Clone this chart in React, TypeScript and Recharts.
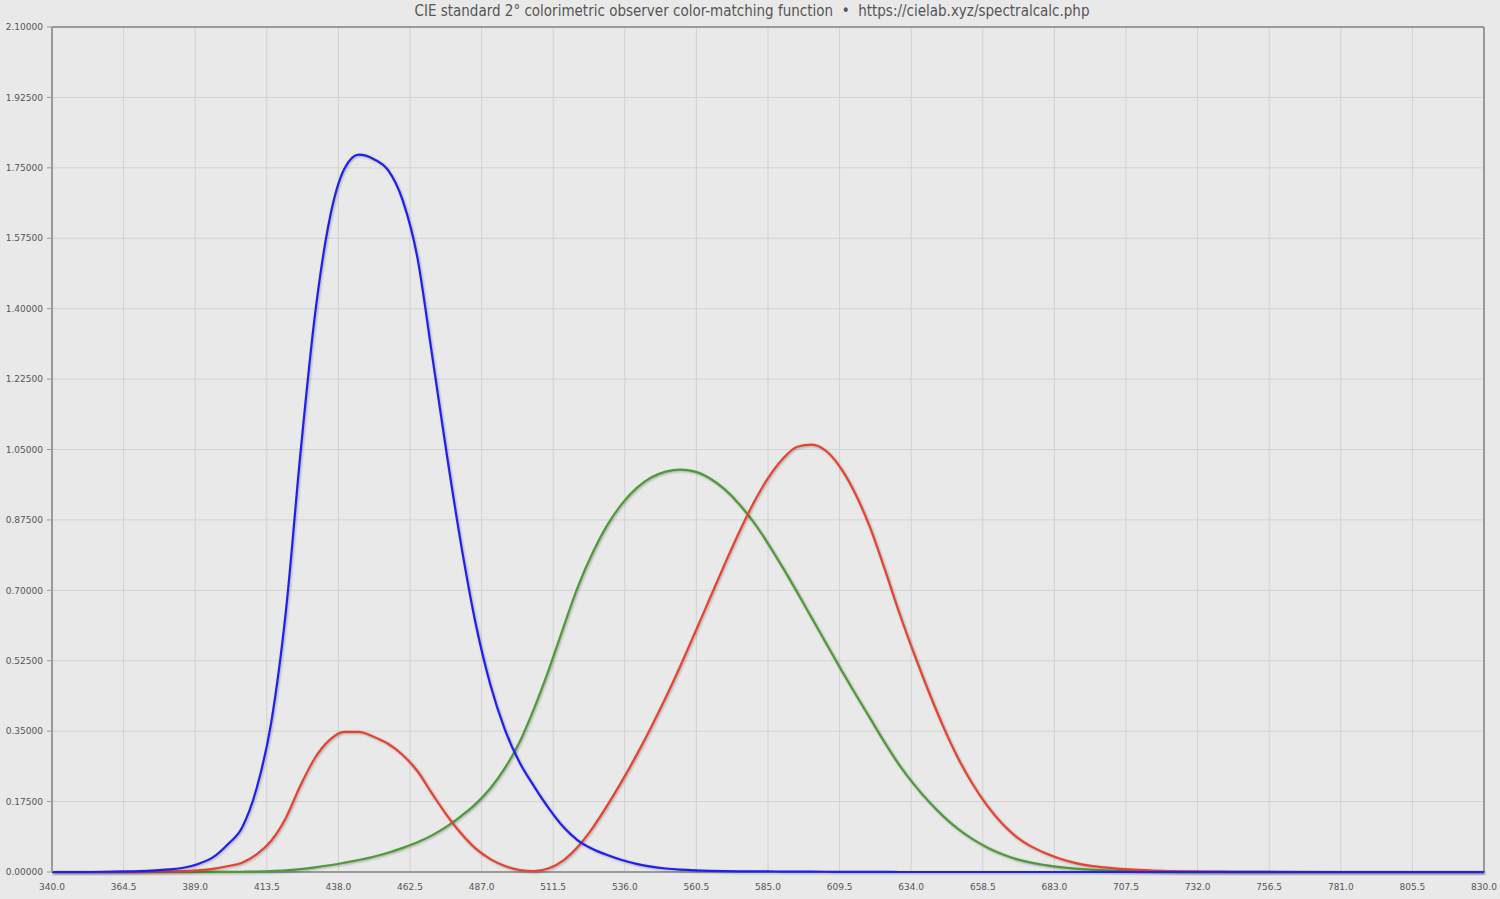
import React from 'react';
import {
  LineChart,
  Line,
  XAxis,
  YAxis,
  CartesianGrid,
  ReferenceLine,
} from 'recharts';

// CIE 1931 2° colour-matching functions (x̄, ȳ, z̄)
const wavelengths = [
  340, 350, 360, 370, 380, 385, 390, 395, 400, 405, 410, 415, 420, 425, 430, 435,
  440, 445, 450, 455, 460, 465, 470, 475, 480, 485, 490, 495, 500, 505, 510, 515,
  520, 525, 530, 535, 540, 545, 550, 555, 560, 565, 570, 575, 580, 585, 590, 595,
  600, 605, 610, 615, 620, 625, 630, 635, 640, 645, 650, 655, 660, 665, 670, 675,
  680, 685, 690, 695, 700, 710, 720, 730, 740, 750, 760, 780, 800, 830,
];

const xBar = [
  0, 0, 0.00013, 0.000415, 0.001368, 0.002236, 0.004243, 0.00765, 0.01431, 0.02319, 0.04351, 0.07763, 0.13438, 0.21477, 0.2839, 0.3285,
  0.34828, 0.34806, 0.3362, 0.3187, 0.2908, 0.2511, 0.19536, 0.1421, 0.09564, 0.05795, 0.03201, 0.0147, 0.0049, 0.0024, 0.0093, 0.0291,
  0.06327, 0.1096, 0.1655, 0.22575, 0.2904, 0.3597, 0.43345, 0.51205, 0.5945, 0.6784, 0.7621, 0.8425, 0.9163, 0.9786, 1.0263, 1.0567,
  1.0622, 1.0456, 1.0026, 0.9384, 0.85445, 0.7514, 0.6424, 0.5419, 0.4479, 0.3608, 0.2835, 0.2187, 0.1649, 0.1212, 0.0874, 0.0636,
  0.04677, 0.0329, 0.0227, 0.01584, 0.011359, 0.00579, 0.002899, 0.00144, 0.00069, 0.000332, 0.000166, 0.000042, 0.00001, 0,
];

const yBar = [
  0, 0, 0.000004, 0.000012, 0.000039, 0.000064, 0.00012, 0.000217, 0.000396, 0.00064, 0.00121, 0.00218, 0.004, 0.0073, 0.0116, 0.01684,
  0.023, 0.0298, 0.038, 0.048, 0.06, 0.0739, 0.09098, 0.1126, 0.13902, 0.1693, 0.20802, 0.2586, 0.323, 0.4073, 0.503, 0.6082,
  0.71, 0.7932, 0.862, 0.91485, 0.954, 0.9803, 0.99495, 1.0, 0.995, 0.9786, 0.952, 0.9154, 0.87, 0.8163, 0.757, 0.6949,
  0.631, 0.5668, 0.503, 0.4412, 0.381, 0.321, 0.265, 0.217, 0.175, 0.1382, 0.107, 0.0816, 0.061, 0.04458, 0.032, 0.0232,
  0.017, 0.01192, 0.00821, 0.005723, 0.004102, 0.002091, 0.001047, 0.00052, 0.000249, 0.00012, 0.00006, 0.000015, 0.000004, 0,
];

const zBar = [
  0, 0, 0.000606, 0.001946, 0.00645, 0.01055, 0.02005, 0.03621, 0.06785, 0.1102, 0.2074, 0.3713, 0.6456, 1.03905, 1.3856, 1.62296,
  1.74706, 1.7826, 1.77211, 1.7441, 1.6692, 1.5281, 1.28764, 1.0419, 0.81295, 0.6162, 0.46518, 0.3533, 0.272, 0.2123, 0.1582, 0.1117,
  0.07825, 0.05725, 0.04216, 0.02984, 0.0203, 0.0134, 0.00875, 0.00575, 0.0039, 0.00275, 0.0021, 0.0018, 0.00165, 0.0014, 0.0011, 0.001,
  0.0008, 0.0006, 0.00034, 0.00024, 0.00019, 0.0001, 0.00005, 0.00003, 0.00002, 0.00001, 0, 0, 0, 0, 0, 0,
  0, 0, 0, 0, 0, 0, 0, 0, 0, 0, 0, 0, 0, 0,
];

const xTicks = [
  340, 364.5, 389, 413.5, 438, 462.5, 487, 511.5, 536, 560.5, 585, 609.5, 634, 658.5, 683, 707.5,
  732, 756.5, 781, 805.5, 830,
];
const yTicks = [0, 0.175, 0.35, 0.525, 0.7, 0.875, 1.05, 1.225, 1.4, 1.575, 1.75, 1.925, 2.1];

const title = 'CIE standard 2° colorimetric observer color-matching function  •  https://cielab.xyz/spectralcalc.php';

const data = wavelengths.map((w, i) => ({ w, x: xBar[i], y: yBar[i], z: zBar[i] }));

const tickStyle = { fontSize: 9, fill: '#555', fontFamily: 'DejaVu Sans' };

export default function App() {
  return (
    <div
      style={{
        position: 'absolute',
        left: 0,
        top: 0,
        width: 1500,
        height: 899,
        background: '#e9e9e9',
        overflow: 'hidden',
      }}
    >
      <style>{`.recharts-line-curve { filter: drop-shadow(1.5px 1.5px 1px rgba(0,0,0,0.28)); }`}</style>
      <div
        style={{
          position: 'absolute',
          top: 2,
          left: 0,
          width: 1504,
          textAlign: 'center',
          fontFamily: 'DejaVu Sans Condensed, DejaVu Sans',
          fontSize: 15,
          color: '#555',
          whiteSpace: 'pre',
        }}
      >
        {title}
      </div>
      <LineChart
        width={1500}
        height={899}
        data={data}
        margin={{ top: 27, right: 16, bottom: 0, left: 0 }}
      >
        <CartesianGrid stroke="#d2d2d2" strokeWidth={1} horizontal vertical />
        <XAxis
          dataKey="w"
          type="number"
          domain={[340, 830]}
          ticks={xTicks}
          interval={0}
          tickFormatter={(v: number) => v.toFixed(1)}
          tick={tickStyle}
          tickLine={false}
          axisLine={false}
          height={27}
          tickMargin={6}
        />
        <YAxis
          type="number"
          domain={[0, 2.1]}
          ticks={yTicks}
          interval={0}
          tickFormatter={(v: number) => v.toFixed(5)}
          tick={tickStyle}
          tickLine={{ stroke: '#999' }}
          tickSize={5}
          axisLine={{ stroke: '#999', strokeWidth: 2 }}
          width={52}
          tickMargin={4}
        />
        <ReferenceLine y={0} stroke="#999" strokeWidth={2} />
        <ReferenceLine x={830} stroke="#999" strokeWidth={2} />
        <ReferenceLine y={2.1} stroke="#999" strokeWidth={2} />
        <Line
          type="monotone"
          dataKey="y"
          stroke="#4f9a38"
          strokeWidth={2.2}
          dot={false}
          isAnimationActive={false}
        />
        <Line
          type="monotone"
          dataKey="x"
          stroke="#e8412f"
          strokeWidth={2.2}
          dot={false}
          isAnimationActive={false}
        />
        <Line
          type="monotone"
          dataKey="z"
          stroke="#1f1ff0"
          strokeWidth={2.2}
          dot={false}
          isAnimationActive={false}
        />
      </LineChart>
    </div>
  );
}
